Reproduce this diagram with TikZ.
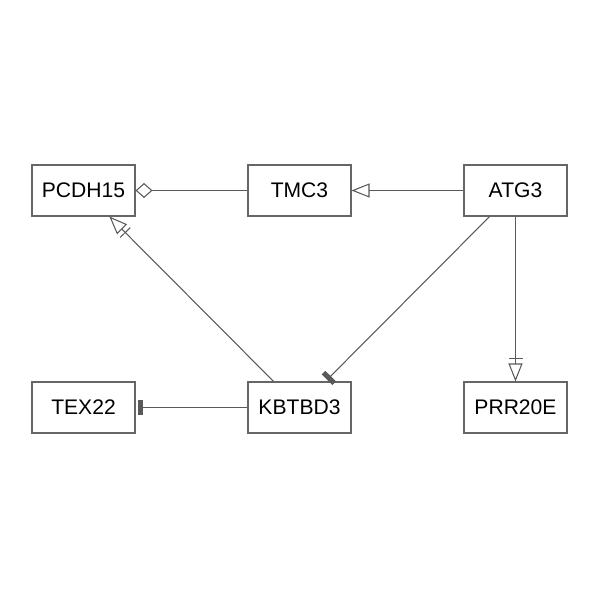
\documentclass[tikz,border=0pt]{standalone}
\usepackage{fontspec}
\setmainfont{Liberation Sans}
\usetikzlibrary{positioning,arrows.meta}

\begin{document}
\begin{tikzpicture}[thick,
                    gene/.style={rectangle,draw=black!60,line width=0.6pt,minimum width=2.06cm,minimum height=1.02cm,font=\fontsize{12}{14}\selectfont},
                    link/.style={draw=black!65,line width=0.6pt},
                    opentri/.style={-{Triangle[open,length=0.36cm,width=0.28cm]}},
                    opendia/.style={-{Diamond[open,length=0.34cm,width=0.3cm]}},
                    tee/.style={-{Rectangle[length=0.1cm,width=0.3cm,sep=0.05cm,fill=black!65,color=black!65]}},
                    teetri/.style={-{Bar[width=0.28cm,sep=0.08cm]Triangle[open,length=0.36cm,width=0.28cm]}}
                   ]
    \useasboundingbox (0,0) rectangle (12,12);
    \node[gene] (PCDH15) at (1.67,8.19) {PCDH15};
    \node[gene] (TMC3)   at (5.99,8.19) {TMC3};
    \node[gene] (ATG3)   at (10.31,8.19) {ATG3};
    \node[gene] (TEX22)  at (1.67,3.85) {TEX22};
    \node[gene] (KBTBD3) at (5.99,3.85) {KBTBD3};
    \node[gene] (PRR20E) at (10.31,3.85) {PRR20E};
    \path[link]%
      (TMC3) edge [opendia] (PCDH15)
      (ATG3) edge [opentri] (TMC3)
      (KBTBD3) edge [teetri] (PCDH15)
      (ATG3) edge [tee] (KBTBD3)
      (ATG3) edge [teetri] (PRR20E)
      (KBTBD3) edge [tee] (TEX22);
\end{tikzpicture}
\end{document}
